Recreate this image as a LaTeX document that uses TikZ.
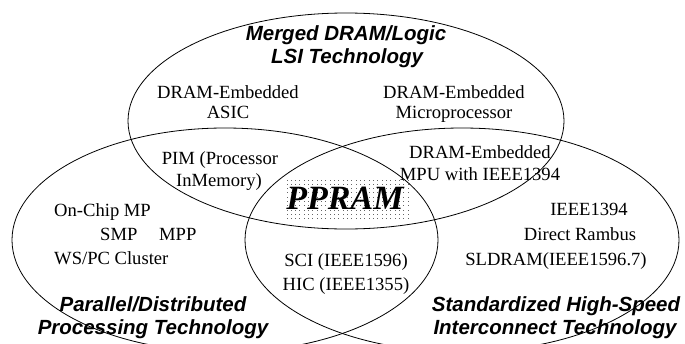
\documentclass[tikz,border=0pt]{standalone}
\usepackage{fontspec}
\setmainfont{Liberation Serif}
\setsansfont{Liberation Sans}
\begin{document}
\begin{tikzpicture}[x=1pt,y=-1pt,
  ring/.style={draw=black,line width=0.8pt},
  body/.style={font=\fontsize{18.6}{21}\selectfont\rmfamily,inner sep=0pt,anchor=base},
  bodyl/.style={body,anchor=base west},
  area/.style={font=\fontsize{20.5}{23}\selectfont\sffamily\bfseries\itshape,inner sep=0pt,anchor=base},
  core/.style={font=\fontsize{34}{34}\selectfont\rmfamily\bfseries\itshape,inner sep=0pt,anchor=base}]
\useasboundingbox (0,0) rectangle (685,343);
\clip (0,0) rectangle (685,343);

% dotted backdrop behind the central label
\foreach \i in {0,...,28}{
  \foreach \j in {0,...,9}{
    \fill[black!60] (286.5+\i*4.33,179.5+\j*4.33) rectangle ++(0.9,0.9);
  }
}

% the three overlapping technology areas
\draw[ring] (346,121) ellipse [x radius=218pt, y radius=108pt];
\draw[ring] (225,240) ellipse [x radius=213pt, y radius=112pt];
\draw[ring] (462,240) ellipse [x radius=217pt, y radius=112pt];

% area titles
\node[area] (lsi1) at (346,40) {Merged DRAM/Logic};
\node[area] (lsi2) at (347,63) {LSI Technology};
\node[area] (par1) at (153,311) {Parallel/Distributed};
\node[area] (par2) at (153,334) {Processing Technology};
\node[area] (ict1) at (556,311) {Standardized High-Speed};
\node[area] (ict2) at (555,334) {Interconnect Technology};

% merged DRAM/logic entries
\node[body] (asic1) at (228,98) {DRAM-Embedded};
\node[body] (asic2) at (228,118) {ASIC};
\node[body] (mp1) at (454,98) {DRAM-Embedded};
\node[body] (mp2) at (454,118) {Microprocessor};

% pairwise overlaps
\node[body] (pim1) at (220,164) {PIM (Processor};
\node[body] (pim2) at (219,186) {InMemory)};
\node[body] (mpu1) at (480,158) {DRAM-Embedded};
\node[body] (mpu2) at (480,180) {MPU with IEEE1394};
\node[body] (sci) at (346,266) {SCI (IEEE1596)};
\node[body] (hic) at (346,290) {HIC (IEEE1355)};

% parallel processing entries
\node[bodyl] (ocmp) at (54,216) {On-Chip MP};
\node[bodyl] (smp) at (100,240) {SMP};
\node[bodyl] (mpp) at (159,240) {MPP};
\node[bodyl] (wspc) at (54,264) {WS/PC Cluster};

% interconnect entries
\node[body] (ieee) at (589,215) {IEEE1394};
\node[body] (rambus) at (580,240) {Direct Rambus};
\node[body] (sldram) at (556,265) {SLDRAM(IEEE1596.7)};

% the common core
\node[core] (ppram) at (345,209) {PPRAM};
\end{tikzpicture}
\end{document}
